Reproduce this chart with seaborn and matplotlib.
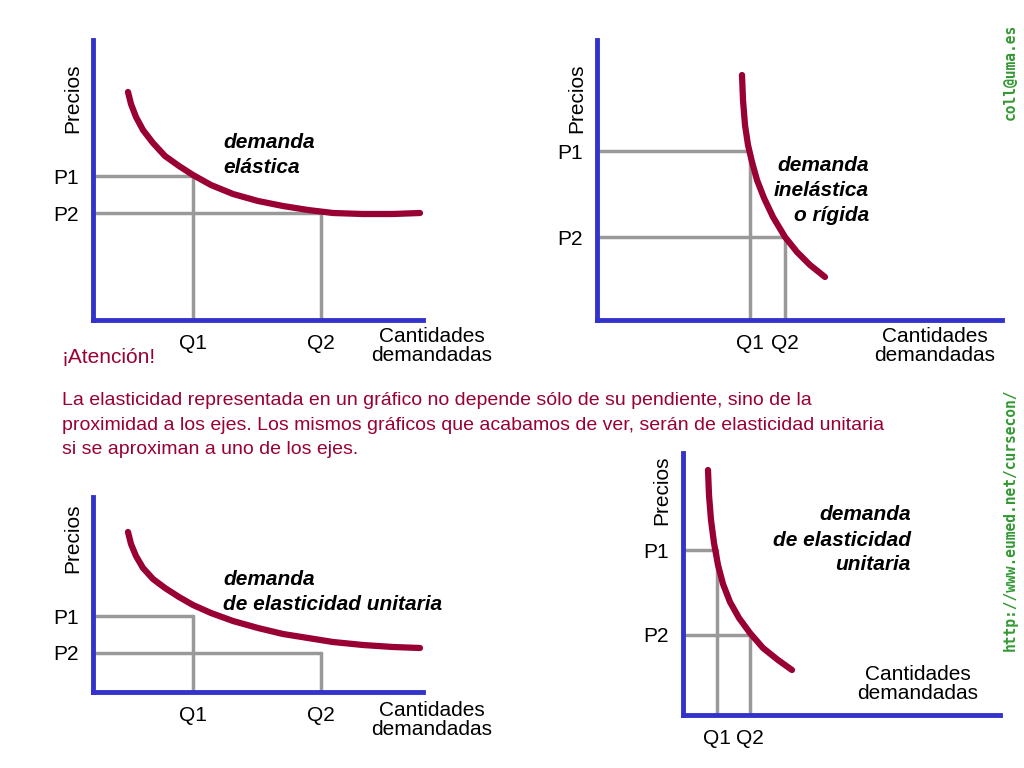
import matplotlib
matplotlib.use("Agg")
import matplotlib.pyplot as plt
import seaborn as sns
import pandas as pd

sns.set_style("white")
plt.rcParams["font.family"] = ["Liberation Sans", "DejaVu Sans"]
plt.rcParams["text.color"] = "black"

CURVE = "#990033"
AXIS = "#3333cc"
GUIDE = "#999999"

# curve points (panel units, origin at the axes corner)
elastic_x = [35, 38, 43, 50, 60, 72, 86, 100, 118, 140, 165, 190, 215, 240, 270, 300, 327]
elastic_y = [228, 216, 203, 190, 177, 164, 154, 145, 135, 126, 119, 114, 110, 107, 106, 106, 107]
inelastic_x = [145, 146, 148, 151, 155, 160, 167, 176, 188, 200, 213, 228]
inelastic_y = [245, 220, 195, 175, 158, 140, 122, 103, 83, 68, 55, 43]
unit1_x = [35, 38, 43, 50, 60, 72, 86, 100, 118, 140, 165, 190, 215, 240, 270, 300, 327]
unit1_y = [160, 148, 136, 124, 113, 104, 95, 87, 79, 71, 64, 58, 54, 50, 47, 45, 44]
unit2_x = [25, 26, 28, 31, 35, 40, 47, 56, 67, 80, 95, 109]
unit2_y = [245, 220, 195, 172, 150, 131, 113, 97, 82, 67, 55, 45]

q_labels = ["Q1", "Q2"]
p_labels = ["P1", "P2"]
panels = [
    dict(box=(93, 320, 330, 280), x=elastic_x, y=elastic_y, q=[100, 228], p=[144, 107],
         label="demanda\nelástica", lab=(130, 165), ha="left",
         cant=(432, 346), prec=(73, 98)),
    dict(box=(597, 320, 405, 280), x=inelastic_x, y=inelastic_y, q=[153, 188], p=[169, 83],
         label="demanda\ninelástica\no rígida", lab=(272, 130), ha="right",
         cant=(935, 346), prec=(577, 98)),
    dict(box=(93, 692, 330, 195), x=unit1_x, y=unit1_y, q=[100, 228], p=[76, 39],
         label="demanda\nde elasticidad unitaria", lab=(130, 100), ha="left",
         cant=(432, 720), prec=(73, 538)),
    dict(box=(683, 715, 317, 262), x=unit2_x, y=unit2_y, q=[34, 67], p=[165, 80],
         label="demanda\nde elasticidad\nunitaria", lab=(228, 175), ha="right",
         cant=(918, 684), prec=(662, 490)),
]

W, H = 1024, 768
fig = plt.figure(figsize=(W / 100, H / 100), dpi=100)

for pn in panels:
    l, b, w, h = pn["box"]
    ax = fig.add_axes([l / W, 1 - b / H, w / W, h / H])
    ax.set_xlim(0, w)
    ax.set_ylim(0, h)
    for q, p in zip(pn["q"], pn["p"]):
        ax.plot([q, q], [0, p], color=GUIDE, lw=2.5, zorder=1)
        ax.plot([0, q], [p, p], color=GUIDE, lw=2.5, zorder=1)
    df = pd.DataFrame({"x": pn["x"], "y": pn["y"]})
    sns.lineplot(data=df, x="x", y="y", sort=False, color=CURVE, lw=4.5, ax=ax, zorder=3)
    ax.set_xlabel("")
    ax.set_ylabel("")
    ax.set_xticks(pn["q"], q_labels)
    ax.set_yticks(pn["p"], p_labels)
    ax.tick_params(length=0, labelsize=15, pad=10, labelcolor="black")
    for s in ["top", "right"]:
        ax.spines[s].set_visible(False)
    for s in ["left", "bottom"]:
        ax.spines[s].set_color(AXIS)
        ax.spines[s].set_linewidth(3.5)
    ax.text(pn["lab"][0], pn["lab"][1], pn["label"], ha=pn["ha"], va="center",
            fontsize=15, style="italic", weight="bold", color="black", linespacing=1.4)
    cx, cy = pn["cant"]
    fig.text(cx / W, 1 - cy / H, "Cantidades\ndemandadas", ha="center", va="center",
             fontsize=15, linespacing=0.95)
    px, py = pn["prec"]
    fig.text(px / W, 1 - py / H, "Precios", rotation=90, ha="center", va="center", fontsize=15)

fig.text(62 / W, 1 - 358 / H, "¡Atención!", color=CURVE, fontsize=15, va="center")
fig.text(62 / W, 1 - 425 / H,
         "La elasticidad representada en un gráfico no depende sólo de su pendiente, sino de la\n"
         "proximidad a los ejes. Los mismos gráficos que acabamos de ver, serán de elasticidad unitaria\n"
         "si se aproximan a uno de los ejes.",
         color=CURVE, fontsize=14, va="center", linespacing=1.55)

fig.text(1010 / W, 1 - 72 / H, "coll@uma.es", rotation=90, ha="center", va="center",
         color="#339933", fontsize=10.5, family="DejaVu Sans Mono", weight="bold")
fig.text(1010 / W, 1 - 520 / H, "http://www.eumed.net/cursecon/", rotation=90, ha="center",
         va="center", color="#339933", fontsize=10.5, family="DejaVu Sans Mono", weight="bold")

fig.savefig("out.png", dpi=100)
